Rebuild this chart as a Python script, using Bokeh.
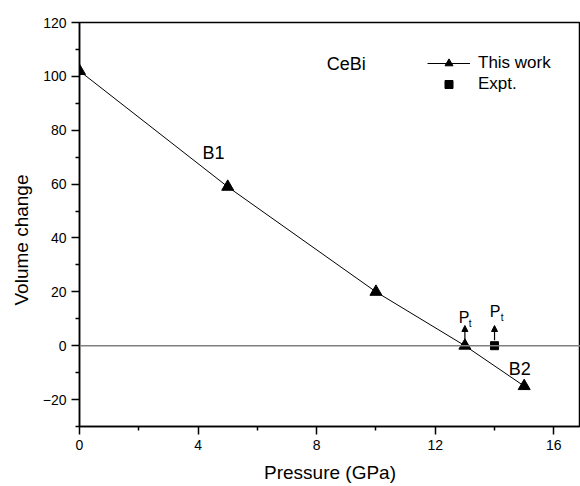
from bokeh.plotting import figure
from bokeh.models import (Range1d, FixedTicker, Label, Arrow, NormalHead, Span,
                          Legend, LegendItem, Title)
from bokeh.embed import file_html
from bokeh.resources import INLINE

# data
pressure = [0, 5, 10, 13, 15]
volume_change = [102, 59, 20, 0, -15]
expt_pressure = [14]
expt_volume = [0]
x_ticks = [0, 4, 8, 12, 16]
x_minor = [2, 6, 10, 14]
y_ticks = [-20, 0, 20, 40, 60, 80, 100, 120]
y_minor = [-30, -10, 10, 30, 50, 70, 90, 110]
x_label = "Pressure (GPa)"
y_label = "Volume change"

FONT = "Liberation Sans"

p = figure(width=580, height=486, output_backend="svg", toolbar_location=None,
           x_range=Range1d(0, 16.9), y_range=Range1d(-30, 120),
           min_border_left=79, min_border_right=0, min_border_top=22,
           min_border_bottom=60)
p.xgrid.visible = False
p.ygrid.visible = False
p.outline_line_color = "black"
p.outline_line_width = 1.5
p.background_fill_color = "white"
p.border_fill_color = "white"

for ax in (p.xaxis[0], p.yaxis[0]):
    ax.axis_line_width = 1.5
    ax.major_tick_line_width = 1.5
    ax.minor_tick_line_width = 1.5
    ax.major_tick_out = 8
    ax.major_tick_in = 0
    ax.minor_tick_out = 4
    ax.minor_tick_in = 0
    ax.major_label_text_font = FONT
    ax.major_label_text_font_size = "14px"
    ax.major_label_text_color = "black"

p.xaxis.ticker = FixedTicker(ticks=x_ticks, minor_ticks=x_minor)
p.yaxis.ticker = FixedTicker(ticks=y_ticks, minor_ticks=y_minor)
p.xaxis.major_label_standoff = 5
p.yaxis.major_label_standoff = 5

p.xaxis.axis_label = x_label
p.xaxis.axis_label_text_font = FONT
p.xaxis.axis_label_text_font_size = "19px"
p.xaxis.axis_label_text_font_style = "normal"
p.xaxis.axis_label_text_color = "black"
p.xaxis.axis_label_standoff = 9

ytitle = Title(text=y_label, align="left", offset=121, standoff=16,
               text_font=FONT, text_font_size="19px", text_font_style="normal",
               text_color="black")
p.add_layout(ytitle, "left")

p.add_layout(Span(location=0, dimension="width", line_color="#808080", line_width=1.5))

ln = p.line(pressure, volume_change, line_color="black", line_width=1)
tri = p.scatter(pressure, volume_change, marker="triangle", size=12,
                fill_color="black", line_color="black")
sq = p.scatter(expt_pressure, expt_volume, marker="square", size=8,
               fill_color="black", line_color="black")

# transition arrows
for xa in (pressure[3], expt_pressure[0]):
    p.add_layout(Arrow(end=NormalHead(size=6, fill_color="black", line_color="black"),
                       x_start=xa, y_start=2, x_end=xa, y_end=7.5,
                       line_color="black", line_width=1.2))

def lab(x, y, t, size):
    p.add_layout(Label(x=x, y=y, text=t, text_font=FONT, text_font_size=size,
                       text_color="black", text_baseline="alphabetic",
                       text_align="left"))

lab(8.34, 104.7, "CeBi", "18px")
lab(4.15, 71.7, "B1", "18px")
lab(14.48, -8.5, "B2", "18px")
lab(12.79, 10.5, "P", "16px")
lab(13.13, 8.2, "t", "10px")
lab(13.84, 12.7, "P", "16px")
lab(14.21, 10.5, "t", "10px")

legend = Legend(items=[LegendItem(label="This work", renderers=[ln, tri]),
                       LegendItem(label="Expt.", renderers=[sq])],
                location=(348, 332), glyph_width=43, glyph_height=20,
                label_height=20, spacing=1, label_standoff=8, padding=0, margin=0,
                border_line_color=None, background_fill_alpha=0,
                label_text_font=FONT, label_text_font_size="17px",
                label_text_color="black")
p.add_layout(legend, "center")

open("out.html", "w").write(file_html(p, INLINE))
